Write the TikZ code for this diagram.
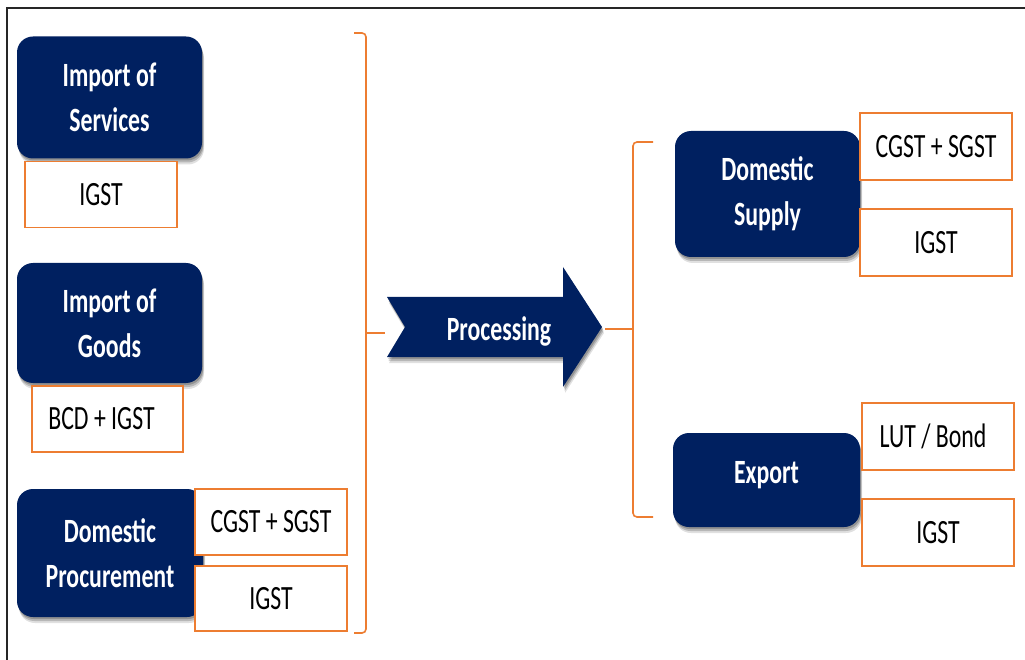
\documentclass[tikz,border=0pt]{standalone}
\usepackage{fontspec}
\setmainfont{Carlito}[FakeStretch=0.7]
\usetikzlibrary{shadows}
\definecolor{navy}{RGB}{0,32,96}
\definecolor{orng}{RGB}{237,125,49}
\tikzset{
  softshadow/.style={
    general shadow={shadow xshift=2pt, shadow yshift=-6pt, fill=black, opacity=0.12},
    general shadow={shadow xshift=1.5pt, shadow yshift=-4pt, fill=black, opacity=0.18},
    general shadow={shadow xshift=1pt, shadow yshift=-2pt, fill=black, opacity=0.2}},
  navybox/.style={fill=navy, rounded corners=16pt, text=white, softshadow,
    font=\bfseries\fontsize{34}{45}\selectfont, align=center, inner sep=0pt},
  taxbox/.style={draw=orng, line width=1.8pt, fill=white, inner sep=0pt,
    minimum width=152pt, minimum height=66pt, font=\fontsize{34}{40}\selectfont},
  brace/.style={draw=orng, line width=1.6pt, rounded corners=4pt},
  frameline/.style={draw=black!85, line width=2pt}
}
\begin{document}
\begin{tikzpicture}[x=1pt,y=-1pt]
\useasboundingbox (0,0) rectangle (1025,660);
\fill[white] (0,0) rectangle (1025,660);
% frame
\coordinate (f1) at (1025,8);
\coordinate (f2) at (7,8);
\coordinate (f3) at (7,660);
\draw[frameline] (f1) -- (f2) -- (f3);

% left column
\node[navybox, minimum width=185pt, minimum height=122pt] (ios) at (109.5,97.5) {Import of\\Services};
\node[taxbox] (igst1) at (101,194.5) {IGST};
\node[navybox, minimum width=185pt, minimum height=120pt] (iog) at (109.5,323) {Import of\\Goods};
\node[taxbox, minimum width=151pt] (bcd) at (107.5,419) {BCD + IGST\hspace*{12pt}};
\node[navybox, minimum width=186pt, minimum height=128pt, text width=186pt] (dp) at (110,553) {Domestic\\Procurement};
\node[taxbox] (cgst1) at (271,522) {CGST + SGST};
\node[taxbox, minimum height=65pt] (igst2) at (271,598.5) {IGST};

% left brace
\coordinate (lb1) at (354,33);
\coordinate (lb2) at (366,33);
\coordinate (lb3) at (366,633);
\coordinate (lb4) at (354,633);
\coordinate (lbm) at (366,333);
\coordinate (lbt) at (385,333);
\draw[brace] (lb1) -- (lb2) -- (lb3) -- (lb4);
\draw[brace] (lbm) -- (lbt);

% processing arrow
\fill[navy, softshadow] (387,297) -- (563,297) -- (563,267) -- (602,327) -- (563,387) -- (563,357) -- (387,357) -- (405,327) -- cycle;
\node[text=white, font=\bfseries\fontsize{34}{40}\selectfont, inner sep=0pt] (proc) at (499,331) {Processing};

% right brace
\coordinate (rb1) at (653,142);
\coordinate (rb2) at (633,142);
\coordinate (rb3) at (633,517);
\coordinate (rb4) at (653,517);
\coordinate (rbm) at (633,329);
\coordinate (rbt) at (605,329);
\draw[brace] (rb1) -- (rb2) -- (rb3) -- (rb4);
\draw[brace] (rbm) -- (rbt);

% right column
\node[navybox, minimum width=185pt, minimum height=126pt] (ds) at (767.5,194) {Domestic\\Supply};
\node[taxbox, minimum height=67pt] (cgst2) at (936,146.5) {CGST + SGST};
\node[taxbox, minimum height=67pt] (igst3) at (936,242.5) {IGST};
\node[navybox, minimum width=187pt, minimum height=94pt, text depth=15pt] (exp) at (766.5,480) {Export};
\node[taxbox, minimum height=67pt] (lut) at (938,436.5) {LUT / Bond\hspace*{10pt}};
\node[taxbox, minimum height=67pt] (igst4) at (938,532.5) {IGST};
\end{tikzpicture}
\end{document}
